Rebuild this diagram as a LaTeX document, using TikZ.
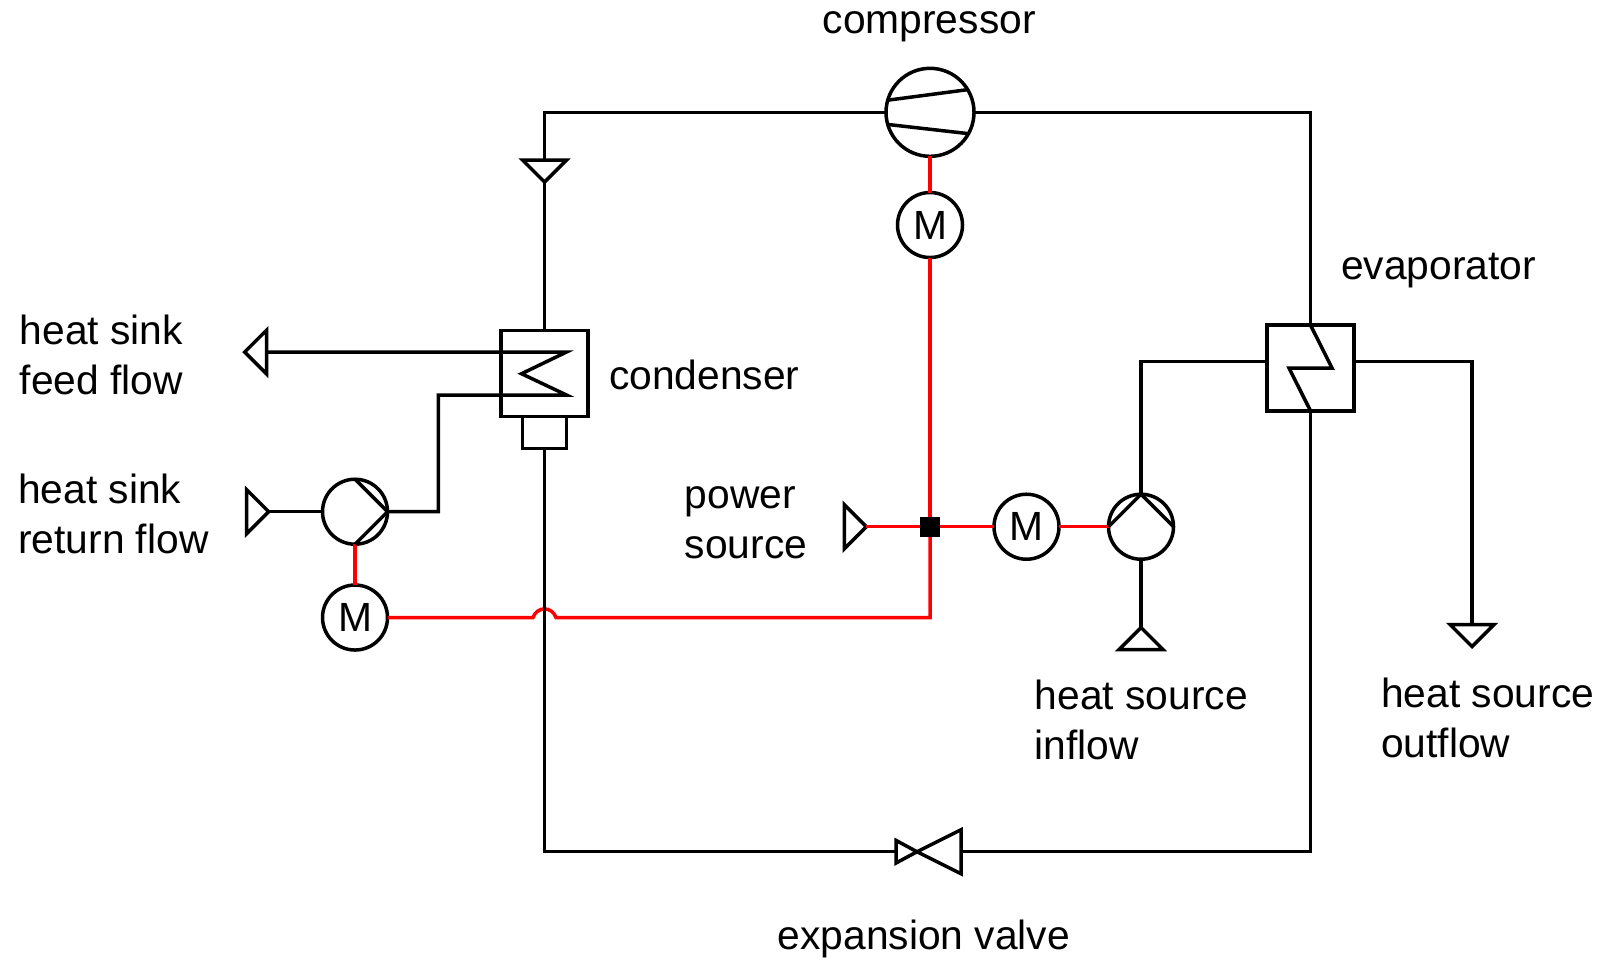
\documentclass[tikz,border=0pt]{standalone}
\usepackage{fontspec}
\setmainfont{Liberation Sans}
\usepackage{xcolor}
\usepackage{tikz}
\usetikzlibrary{calc,positioning}
\definecolor{ink}{HTML}{000000}
\definecolor{elred}{HTML}{FF0000}
\newcommand{\labfont}{\fontsize{11.6pt}{14.2pt}\selectfont}
\tikzset{
  pipe/.style={draw=ink, line width=0.35mm},
  wire/.style={draw=elred, line width=0.35mm},
  symb/.style={draw=ink, line width=0.35mm, inner sep=0pt, outer sep=0pt},
  comp/.style={symb, circle, minimum size=8.8mm},
  motor/.style={symb, circle, minimum size=6.5mm, font=\labfont},
  pump/.style={symb, circle, minimum size=6.5mm},
  hx/.style={symb, rectangle, minimum width=8.66mm, minimum height=8.6mm},
  sump/.style={symb, rectangle, minimum width=4.4mm, minimum height=3.16mm},
  junction/.style={rectangle, fill=ink, minimum size=2mm, inner sep=0pt},
  lab/.style={text=ink, font=\labfont, inner sep=0pt, anchor=base west, align=left},
  port/.pic={
    \draw[pipe] (0,-22) -- (22,0) -- (0,22) -- cycle;
    \coordinate (-base) at (0,0);
    \coordinate (-tip) at (22,0);
  },
  valve/.pic={
    \draw[pipe] (0,0) -- (-21,-11.3) -- (-21,11.3) -- cycle;
    \draw[pipe] (0,0) -- (44,-22) -- (44,22) -- cycle;
    \coordinate (-l) at (-21,0);
    \coordinate (-r) at (44,0);
  }
}

\begin{document}
\begin{tikzpicture}[x=0.1mm, y=-0.1mm]
  \useasboundingbox (0,0) rectangle (1616,959);

  % components
  \node[comp] (comp) at (930,112.3) {};
  \node[motor] (mcomp) at (930,225) {M};
  \node[hx] (cond) at (544.5,373.7) {};
  \node[sump, below=0pt of cond] (sump) {};
  \node[hx, minimum height=8.57mm] (evap) at (1310.5,368) {};
  \node[pump] (psink) at (355,511.7) {};
  \node[motor] (msink) at (355,617.5) {M};
  \node[motor] (msrc) at (1026.5,526.7) {M};
  \node[pump] (psrc) at (1141,526.7) {};
  \coordinate (junc) at (930,526.7);
  \coordinate (hopR) at (556,617.5);
  \coordinate (hopL) at (533,617.5);

  % inlets and outlets
  \pic[rotate=-90] (cdown) at (544.5,160) {port};
  \pic[rotate=180] (feed) at (266.7,352) {port};
  \pic (ret) at (246.7,511.7) {port};
  \pic (power) at (844.3,526.7) {port};
  \pic[rotate=90] (srcin) at (1141,649.5) {port};
  \pic[rotate=-90] (srcout) at (1472,624.5) {port};
  \pic (valve) at (917,851.7) {valve};

  % power lines
  \draw[wire] (comp.south) -- (mcomp.north);
  \draw[wire] (mcomp.south) -- (junc);
  \draw[wire] (power-tip) -- (junc) -- (msrc.west);
  \draw[wire] (msrc.east) -- (psrc.west);
  \draw[wire] (psink.south) -- (msink.north);
  \draw[wire] (junc) |- (hopR) .. controls +(-4,-11.5) and +(4,-11.5) .. (hopL) -- (msink.east);
  \node[junction] (jbox) at (junc) {};

  % refrigerant loop
  \draw[pipe] (comp.west) -| (cdown-base);
  \draw[pipe] (cdown-tip) -- (cond.north);
  \draw[pipe] (comp.east) -| (evap.north);
  \draw[pipe] (evap.south) |- (valve-r);
  \draw[pipe] (valve-l) -| (sump.south);
  \draw[pipe] (comp.164) -- (comp.31);
  \draw[pipe] (comp.-164) -- (comp.-29);

  % heat sink side, coil in condenser
  \draw[pipe] (feed-base) -- ($(cond.center)+(22,-21.7)$) -- ($(cond.center)+(-23,0)$)
    -- ($(cond.center)+(22,21.3)$) -- (438.3,395) |- (psink.east);
  \draw[pipe] (ret-tip) -- (psink.west);
  \draw[pipe] (psink.north) -- (psink.east) -- (psink.south);

  % heat source side
  \draw[pipe] (srcin-tip) -- (psrc.south);
  \draw[pipe] (psrc.north) |- ([yshift=0.65mm]evap.west);
  \draw[pipe] ([yshift=0.65mm]evap.east) -| (srcout-base);
  \draw[pipe] (psrc.west) -- (psrc.north) -- (psrc.east);
  \draw[pipe] (evap.north) -- ($(evap.center)+(21.5,0)$) -- ($(evap.center)+(-21.5,0)$) -- (evap.south);

  % labels (base = last line)
  \node[lab] (tcomp) at (822,33) {compressor};
  \node[lab] (tfeed) at (19,394) {heat sink\\feed flow};
  \node[lab] (tret) at (17.5,553) {heat sink\\return flow};
  \node[lab] (tcond) at (608.5,389.5) {condenser};
  \node[lab] (tpow) at (684,558) {power\\source};
  \node[lab] (tevap) at (1340.5,279) {evaporator};
  \node[lab] (tin) at (1034,759) {heat source\\inflow};
  \node[lab] (tout) at (1380.5,757) {heat source\\outflow};
  \node[lab] (tvalve) at (777,949) {expansion valve};
\end{tikzpicture}
\end{document}
